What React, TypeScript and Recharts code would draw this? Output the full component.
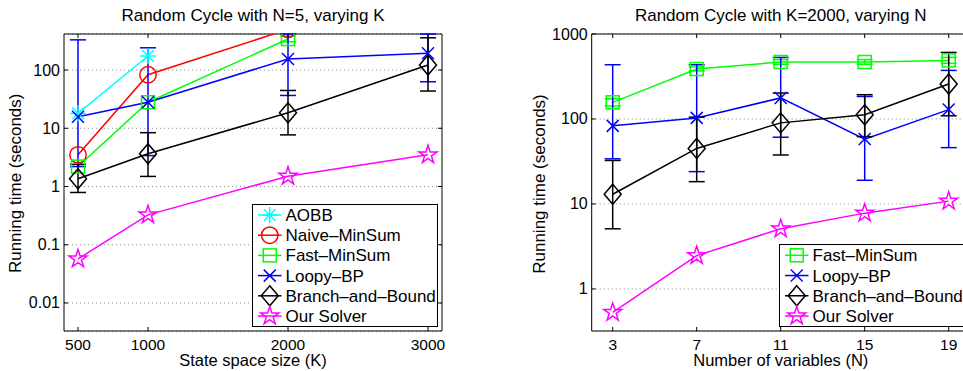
import React from 'react';
import { LineChart, Line, XAxis, YAxis, CartesianGrid, ErrorBar, ReferenceArea } from 'recharts';

// ---------- Left chart data: Random Cycle with N=5, varying K ----------
const K_VALUES = [500, 1000, 2000, 3000];
const K_TICKS = [500, 1000, 2000, 3000];
const L_Y_TICKS = [0.01, 0.1, 1, 10, 100];
const L_AOBB = [18, 174, null, null];
const L_NAIVE = [3.5, 83, 500, null];
const L_FAST = [2.2, 28, 341, null];
const L_FAST_LO = [null, null, 305, null];
const L_FAST_HI = [null, null, 385, null];
const L_LOOPY = [15.8, 28, 155, 195];
const L_LOOPY_LO = [2.2, 3.4, 36.6, 63];
const L_LOOPY_HI = [330, 241, 415, 415];
const L_BNB = [1.36, 3.65, 18.5, 122];
const L_BNB_LO = [0.79, 1.49, 7.7, 43.6];
const L_BNB_HI = [2.4, 8.4, 44.6, 358];
const L_OUR = [0.057, 0.326, 1.5, 3.5];

// ---------- Right chart data: Random Cycle with K=2000, varying N ----------
const N_VALUES = [3, 7, 11, 15, 19];
const N_TICKS = [3, 7, 11, 15, 19];
const R_Y_TICKS = [1, 10, 100, 1000];
const R_FAST = [157, 387, 468, 468, 489];
const R_FAST_LO = [142, 368, 440, 440, 452];
const R_FAST_HI = [173, 410, 500, 500, 530];
const R_LOOPY = [83, 103, 177, 58, 129];
const R_LOOPY_LO = [34, 24, 61, 19, 46];
const R_LOOPY_HI = [435, 435, 530, 184, 373];
const R_BNB = [13, 45, 90, 112, 258];
const R_BNB_LO = [5.1, 18.3, 37.7, 62, 109];
const R_BNB_HI = [32.5, 105, 202, 193, 607];
const R_OUR = [0.53, 2.47, 5.1, 7.8, 10.8];

const FONT = '"Liberation Sans", Arial, Helvetica, sans-serif';
const C_AOBB = '#00ffff';
const C_NAIVE = '#ff0000';
const C_FAST = '#00ff00';
const C_LOOPY = '#0000ff';
const C_BNB = '#000000';
const C_OUR = '#ff00ff';

const err = (v: number | null, lo: number | null, hi: number | null) =>
  v == null || lo == null || hi == null ? null : [v - lo, hi - v];

const leftRows = K_VALUES.map((k, i) => ({
  k,
  aobb: L_AOBB[i],
  naive: L_NAIVE[i],
  fast: L_FAST[i],
  fastErr: err(L_FAST[i], L_FAST_LO[i], L_FAST_HI[i]),
  loopy: L_LOOPY[i],
  loopyErr: err(L_LOOPY[i], L_LOOPY_LO[i], L_LOOPY_HI[i]),
  bnb: L_BNB[i],
  bnbErr: err(L_BNB[i], L_BNB_LO[i], L_BNB_HI[i]),
  our: L_OUR[i],
}));

const rightRows = N_VALUES.map((n, i) => ({
  n,
  fast: R_FAST[i],
  fastErr: err(R_FAST[i], R_FAST_LO[i], R_FAST_HI[i]),
  loopy: R_LOOPY[i],
  loopyErr: err(R_LOOPY[i], R_LOOPY_LO[i], R_LOOPY_HI[i]),
  bnb: R_BNB[i],
  bnbErr: err(R_BNB[i], R_BNB_LO[i], R_BNB_HI[i]),
  our: R_OUR[i],
}));

type Shape = 'asterisk' | 'circle' | 'square' | 'x' | 'diamond' | 'star';

function Marker({ shape, cx, cy, color }: { shape: Shape; cx: number; cy: number; color: string }) {
  const sw = 1.5;
  if (shape === 'asterisk') {
    const r = 8;
    const d = r * 0.72;
    return (
      <g stroke={color} strokeWidth={sw} fill="none">
        <line x1={cx - r} y1={cy} x2={cx + r} y2={cy} />
        <line x1={cx} y1={cy - r} x2={cx} y2={cy + r} />
        <line x1={cx - d} y1={cy - d} x2={cx + d} y2={cy + d} />
        <line x1={cx - d} y1={cy + d} x2={cx + d} y2={cy - d} />
      </g>
    );
  }
  if (shape === 'circle') {
    return <circle cx={cx} cy={cy} r={8.2} stroke={color} strokeWidth={sw} fill="none" />;
  }
  if (shape === 'square') {
    return <rect x={cx - 6.5} y={cy - 6.5} width={13} height={13} stroke={color} strokeWidth={sw} fill="none" />;
  }
  if (shape === 'x') {
    const r = 6;
    return (
      <g stroke={color} strokeWidth={sw} fill="none">
        <line x1={cx - r} y1={cy - r} x2={cx + r} y2={cy + r} />
        <line x1={cx - r} y1={cy + r} x2={cx + r} y2={cy - r} />
      </g>
    );
  }
  if (shape === 'diamond') {
    const w = 8.5;
    const h = 10;
    return (
      <polygon
        points={`${cx},${cy - h} ${cx + w},${cy} ${cx},${cy + h} ${cx - w},${cy}`}
        stroke={color}
        strokeWidth={sw}
        fill="none"
      />
    );
  }
  // pentagram
  const R = 9.5;
  const rIn = R * 0.382;
  const pts: string[] = [];
  for (let k = 0; k < 10; k++) {
    const a = (-90 + k * 36) * (Math.PI / 180);
    const rr = k % 2 === 0 ? R : rIn;
    pts.push(`${(cx + rr * Math.cos(a)).toFixed(2)},${(cy + rr * Math.sin(a)).toFixed(2)}`);
  }
  return <polygon points={pts.join(' ')} stroke={color} strokeWidth={sw} fill="none" />;
}

const dotFn = (shape: Shape, color: string) => (p: any) => {
  const { cx, cy, index, value } = p;
  if (value == null || cx == null || cy == null || Number.isNaN(cx) || Number.isNaN(cy)) {
    return <g key={`e-${index}`} />;
  }
  return (
    <g key={`d-${index}`}>
      <Marker shape={shape} cx={cx} cy={cy} color={color} />
    </g>
  );
};

const PLOT_W = 378;
const PLOT_TOP = 34;
const PLOT_BOTTOM = 331;

const makeYTick = (tickMargin: number) => (props: any) => {
  const { x, y, payload } = props;
  const axisX = x + tickMargin;
  return (
    <g>
      <line x1={axisX} y1={y} x2={axisX + 4} y2={y} stroke="#000" strokeWidth={1} />
      <line x1={axisX + PLOT_W - 4} y1={y} x2={axisX + PLOT_W} y2={y} stroke="#000" strokeWidth={1} />
      <text x={x} y={y + 5.5} textAnchor="end" fontSize={16} fontFamily={FONT} fill="#000">
        {String(payload.value)}
      </text>
    </g>
  );
};

const XTick = (props: any) => {
  const { x, payload } = props;
  return (
    <g>
      <line x1={x} y1={PLOT_BOTTOM} x2={x} y2={PLOT_BOTTOM - 4} stroke="#000" strokeWidth={1} />
      <line x1={x} y1={PLOT_TOP} x2={x} y2={PLOT_TOP + 4} stroke="#000" strokeWidth={1} />
      <text x={x} y={PLOT_BOTTOM + 18.5} textAnchor="middle" fontSize={15.5} fontFamily={FONT} fill="#000">
        {String(payload.value)}
      </text>
    </g>
  );
};

const L_DOMAIN: [number, number] = [0.0033, 416];
const R_DOMAIN: [number, number] = [0.32, 1000];

function LeftChart() {
  return (
    <LineChart
      width={480}
      height={371}
      data={leftRows}
      margin={{ top: 34, right: 38, bottom: 10, left: 14 }}
    >
      <CartesianGrid vertical={false} stroke="#8a8a8a" strokeDasharray="1 3" />
      <XAxis
        dataKey="k"
        type="number"
        domain={[400, 3100]}
        ticks={K_TICKS}
        allowDataOverflow
        height={30}
        axisLine={false}
        tickLine={false}
        tickSize={0}
        tickMargin={0}
        tick={XTick}
        interval={0}
      />
      <YAxis
        scale="log"
        type="number"
        domain={L_DOMAIN}
        ticks={L_Y_TICKS}
        allowDataOverflow
        width={50}
        axisLine={false}
        tickLine={false}
        tickSize={0}
        tickMargin={4}
        tick={makeYTick(4)}
        interval={0}
      />
      <ReferenceArea x1={400} x2={3100} y1={L_DOMAIN[0]} y2={L_DOMAIN[1]} fill="none" stroke="#000" strokeWidth={1} />
      <Line dataKey="aobb" stroke={C_AOBB} strokeWidth={1.5} isAnimationActive={false} dot={dotFn('asterisk', C_AOBB)} activeDot={false} />
      <Line dataKey="naive" stroke={C_NAIVE} strokeWidth={1.5} isAnimationActive={false} dot={dotFn('circle', C_NAIVE)} activeDot={false} />
      <Line dataKey="fast" stroke={C_FAST} strokeWidth={1.5} isAnimationActive={false} dot={dotFn('square', C_FAST)} activeDot={false}>
        <ErrorBar dataKey="fastErr" width={8} stroke={C_FAST} strokeWidth={1.5} direction="y" />
      </Line>
      <Line dataKey="loopy" stroke={C_LOOPY} strokeWidth={1.5} isAnimationActive={false} dot={dotFn('x', C_LOOPY)} activeDot={false}>
        <ErrorBar dataKey="loopyErr" width={8} stroke={C_LOOPY} strokeWidth={1.5} direction="y" />
      </Line>
      <Line dataKey="bnb" stroke={C_BNB} strokeWidth={1.5} isAnimationActive={false} dot={dotFn('diamond', C_BNB)} activeDot={false}>
        <ErrorBar dataKey="bnbErr" width={8} stroke={C_BNB} strokeWidth={1.5} direction="y" />
      </Line>
      <Line dataKey="our" stroke={C_OUR} strokeWidth={1.5} isAnimationActive={false} dot={dotFn('star', C_OUR)} activeDot={false} />
    </LineChart>
  );
}

function RightChart() {
  return (
    <LineChart
      width={500}
      height={371}
      data={rightRows}
      margin={{ top: 34, right: 10.3, bottom: 10, left: 51.7 }}
    >
      <CartesianGrid vertical={false} stroke="#8a8a8a" strokeDasharray="1 3" />
      <XAxis
        dataKey="n"
        type="number"
        domain={[2, 20]}
        ticks={N_TICKS}
        allowDataOverflow
        height={30}
        axisLine={false}
        tickLine={false}
        tickSize={0}
        tickMargin={0}
        tick={XTick}
        interval={0}
      />
      <YAxis
        scale="log"
        type="number"
        domain={R_DOMAIN}
        ticks={R_Y_TICKS}
        allowDataOverflow
        width={60}
        axisLine={false}
        tickLine={false}
        tickSize={0}
        tickMargin={4}
        tick={makeYTick(4)}
        interval={0}
      />
      <ReferenceArea x1={2} x2={20} y1={R_DOMAIN[0]} y2={R_DOMAIN[1]} fill="none" stroke="#000" strokeWidth={1} />
      <Line dataKey="fast" stroke={C_FAST} strokeWidth={1.5} isAnimationActive={false} dot={dotFn('square', C_FAST)} activeDot={false}>
        <ErrorBar dataKey="fastErr" width={8} stroke={C_FAST} strokeWidth={1.5} direction="y" />
      </Line>
      <Line dataKey="loopy" stroke={C_LOOPY} strokeWidth={1.5} isAnimationActive={false} dot={dotFn('x', C_LOOPY)} activeDot={false}>
        <ErrorBar dataKey="loopyErr" width={8} stroke={C_LOOPY} strokeWidth={1.5} direction="y" />
      </Line>
      <Line dataKey="bnb" stroke={C_BNB} strokeWidth={1.5} isAnimationActive={false} dot={dotFn('diamond', C_BNB)} activeDot={false}>
        <ErrorBar dataKey="bnbErr" width={8} stroke={C_BNB} strokeWidth={1.5} direction="y" />
      </Line>
      <Line dataKey="our" stroke={C_OUR} strokeWidth={1.5} isAnimationActive={false} dot={dotFn('star', C_OUR)} activeDot={false} />
    </LineChart>
  );
}

const LEFT_LEGEND: { name: string; shape: Shape; color: string }[] = [
  { name: 'AOBB', shape: 'asterisk', color: C_AOBB },
  { name: 'Naive–MinSum', shape: 'circle', color: C_NAIVE },
  { name: 'Fast–MinSum', shape: 'square', color: C_FAST },
  { name: 'Loopy–BP', shape: 'x', color: C_LOOPY },
  { name: 'Branch–and–Bound', shape: 'diamond', color: C_BNB },
  { name: 'Our Solver', shape: 'star', color: C_OUR },
];
const RIGHT_LEGEND = LEFT_LEGEND.slice(2);

function LegendBox({ x, y, w, h, items, rowY0, rowStep }: any) {
  return (
    <g>
      <rect x={x} y={y} width={w} height={h} fill="#fff" stroke="#000" strokeWidth={1} />
      {items.map((it: any, i: number) => {
        const cy = rowY0 + i * rowStep;
        const lx1 = x + 5.5;
        const lx2 = x + 29;
        const mx = (lx1 + lx2) / 2;
        return (
          <g key={it.name}>
            <line x1={lx1} y1={cy} x2={lx2} y2={cy} stroke={it.color} strokeWidth={1.5} />
            <Marker shape={it.shape} cx={mx} cy={cy} color={it.color} />
            <text x={x + 33} y={cy + 6} fontSize={17} fontFamily={FONT} fill="#000">
              {it.name}
            </text>
          </g>
        );
      })}
    </g>
  );
}

export default function App() {
  return (
    <div
      style={{
        position: 'fixed',
        left: 0,
        top: 0,
        width: 963,
        height: 371,
        overflow: 'hidden',
        background: '#fff',
      }}
    >
      <div style={{ position: 'absolute', left: 0, top: 0 }}>
        <LeftChart />
      </div>
      <div style={{ position: 'absolute', left: 480, top: 0 }}>
        <RightChart />
      </div>
      <svg
        width={963}
        height={371}
        style={{ position: 'absolute', left: 0, top: 0, pointerEvents: 'none' }}
      >
        <text x={253} y={21} textAnchor="middle" fontSize={17} fontFamily={FONT} fill="#000">
          Random Cycle with N=5, varying K
        </text>
        <text x={780.7} y={21} textAnchor="middle" fontSize={17} fontFamily={FONT} fill="#000">
          Random Cycle with K=2000, varying N
        </text>
        <text x={253} y={366} textAnchor="middle" fontSize={16.5} fontFamily={FONT} fill="#000">
          State space size (K)
        </text>
        <text x={780.8} y={366} textAnchor="middle" fontSize={16.5} fontFamily={FONT} fill="#000">
          Number of variables (N)
        </text>
        <text
          x={0}
          y={0}
          transform={`translate(21,183.3) rotate(-90)`}
          textAnchor="middle"
          fontSize={17}
          fontFamily={FONT}
          fill="#000"
        >
          Running time (seconds)
        </text>
        <text
          x={0}
          y={0}
          transform={`translate(544.5,184) rotate(-90)`}
          textAnchor="middle"
          fontSize={17}
          fontFamily={FONT}
          fill="#000"
        >
          Running time (seconds)
        </text>
        <LegendBox x={252.5} y={204.5} w={185} h={122} items={LEFT_LEGEND} rowY0={215} rowStep={20.2} />
        <LegendBox x={779.5} y={244.5} w={187} h={82} items={RIGHT_LEGEND} rowY0={255.3} rowStep={20.23} />
      </svg>
    </div>
  );
}
